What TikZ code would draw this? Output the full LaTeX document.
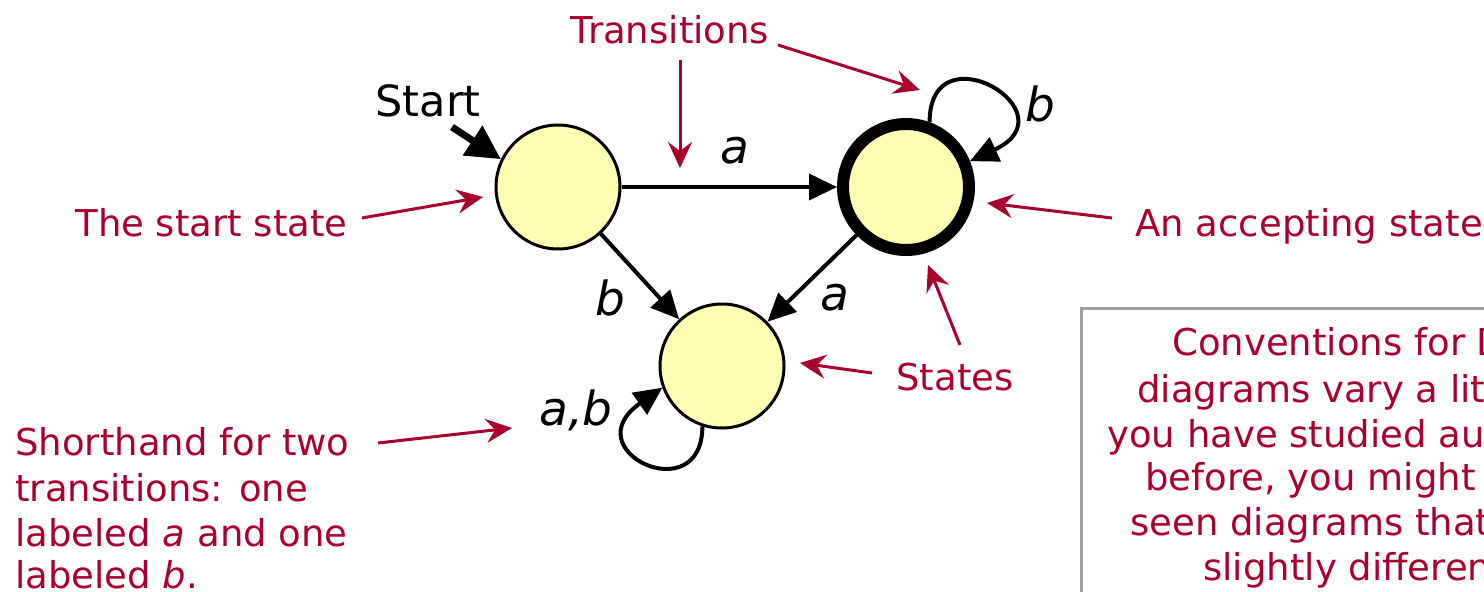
\documentclass[tikz,border=0pt]{standalone}
\usepackage{fontspec}
\setmainfont{DejaVu Sans}
\usetikzlibrary{arrows.meta}
\definecolor{crim}{RGB}{170,0,45}
\definecolor{stfill}{RGB}{255,255,180}
\definecolor{boxgray}{RGB}{160,160,160}
\begin{document}
\begin{tikzpicture}[x=0.5pt,y=0.5pt,
  state/.style={circle, draw=black, fill=stfill, line width=1.5pt, minimum size=62pt, inner sep=0pt},
  accstate/.style={state, line width=6pt, minimum size=63pt},
  edge/.style={draw=black, line width=2pt, -{Triangle[length=14pt,width=13pt]}},
  startarr/.style={draw=black, line width=3.5pt, -{Triangle[length=17pt,width=17pt]}},
  note/.style={draw=crim, line width=1.5pt, -{Stealth[length=13pt,width=12pt,inset=4.5pt]}},
  lbl/.style={font=\fontsize{23.5}{28}\selectfont\itshape, inner sep=0pt},
  rtxt/.style={text=crim, font=\fontsize{18.5}{22.5}\selectfont, inner sep=0pt},
  btxt/.style={text=black, font=\fontsize{21.5}{25}\selectfont, inner sep=0pt}
]
\useasboundingbox (0,0) rectangle (1484,591);
\clip (0,0) rectangle (1484,591);

% states
\node[state] (S) at (558,404) {};
\node[accstate] (A) at (906,404) {};
\node[state] (B) at (722,225) {};

% transitions
\draw[edge] (S) -- (A);
\draw[edge] (S) -- (B);
\draw[edge] (A) -- (B);
\draw[edge] (A.70) .. controls +(90:95) and +(25:115) .. (A.22);
\draw[edge] (B.252) .. controls +(270:85) and +(215:110) .. (B.200);

% labels
\node[lbl] (la1) at (735,440) {a};
\node[lbl] (lb1) at (1040,487) {b};
\node[lbl] (lb2) at (610,293) {b};
\node[lbl] (la2) at (835,293) {a};
\node[lbl, anchor=base] (lab) at (576,166) {a,b};

% start
\node[btxt, anchor=base] (st) at (428,475) {Start};
\coordinate (st0) at (452,464);
\draw[startarr] (st0) -- (S.154);

% annotations
\node[rtxt, anchor=base] (tr) at (670,548) {Transitions};
\coordinate (tr1) at (680,531);
\coordinate (tr1e) at (680,423);
\coordinate (tr2) at (778,546);
\coordinate (tr2e) at (920,501);
\draw[note] (tr1) -- (tr1e);
\draw[note] (tr2) -- (tr2e);

\node[rtxt, anchor=base west] (ss) at (75,355) {The start state};
\coordinate (ss0) at (362,373);
\coordinate (ss1) at (483,394);
\draw[note] (ss0) -- (ss1);

\node[rtxt, anchor=base west] (as) at (1135,355) {An accepting state};
\coordinate (as0) at (1112,373);
\coordinate (as1) at (987,388);
\draw[note] (as0) -- (as1);

\node[rtxt, anchor=base west] (sts) at (896,201) {States};
\coordinate (s10) at (960,246);
\coordinate (s11) at (928,326);
\coordinate (s20) at (872,218);
\coordinate (s21) at (800,228);
\draw[note] (s10) -- (s11);
\draw[note] (s20) -- (s21);

\node[rtxt, anchor=base west] (sh1) at (15,136) {Shorthand for two};
\node[rtxt, anchor=base west] (sh2) at (15,90) {transitions: one};
\node[rtxt, anchor=base west] (sh3) at (15,45) {labeled \textit{a} and one};
\node[rtxt, anchor=base west] (sh4) at (15,3) {labeled \textit{b}.};
\coordinate (sh0) at (378,148);
\coordinate (sh5) at (512,163);
\draw[note] (sh0) -- (sh5);

% conventions box
\draw[boxgray, line width=1.5pt] (1081,283) rectangle (1560,-30);
\node[rtxt, anchor=base west] (c1) at (1172,236) {Conventions for DFA};
\node[rtxt, anchor=base west] (c2) at (1137,189) {diagrams vary a little. If};
\node[rtxt, anchor=base west] (c3) at (1107,144) {you have studied automata};
\node[rtxt, anchor=base west] (c4) at (1145,101) {before, you might have};
\node[rtxt, anchor=base west] (c5) at (1130,56) {seen diagrams that look};
\node[rtxt, anchor=base west] (c6) at (1203,11) {slightly different.};
\end{tikzpicture}
\end{document}
